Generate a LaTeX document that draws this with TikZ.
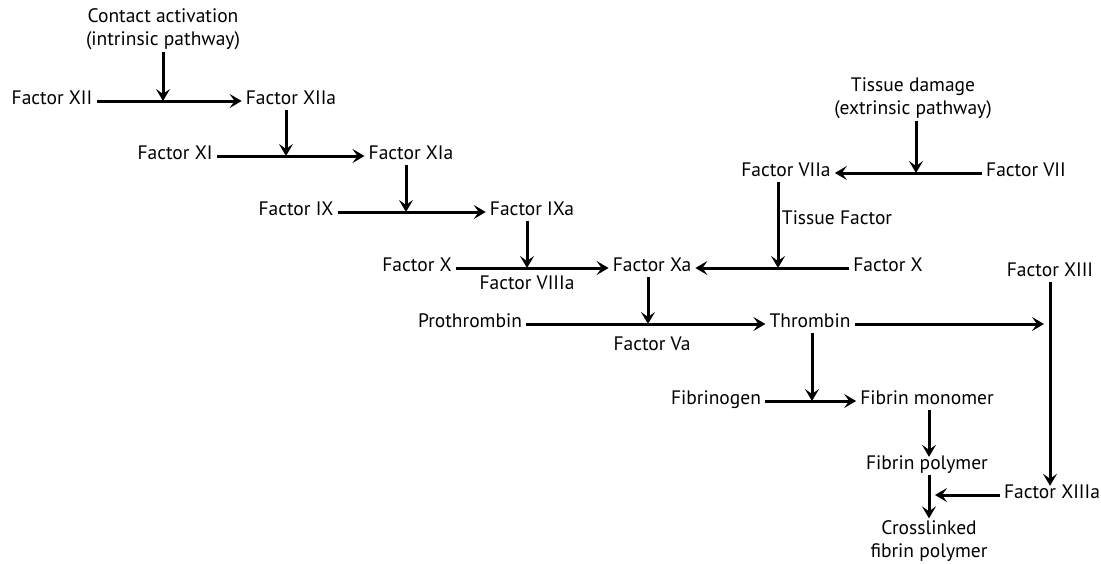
\documentclass[tikz,border=0pt]{standalone}
\usepackage{fontspec}
\setmainfont{PT Sans}
\usetikzlibrary{arrows.meta}

\begin{document}
\begin{tikzpicture}
[x=1pt,y=-1pt]
\tikzset{fac/.style={inner sep=4pt,text height=1.75ex,text depth=.25ex,font=\fontsize{19.5}{23}\selectfont}}
\tikzset{lbl/.style={inner sep=2pt,align=center,font=\fontsize{19.5}{23}\selectfont}}
\tikzset{arr/.style={line width=3pt,-{Stealth[length=12pt,width=14pt,inset=5pt]}}}
\useasboundingbox (0,0) rectangle (1101,563);

\node [lbl] (ca) at (163,29) {Contact activation\\(intrinsic pathway)};
\node [fac] (f12) at (52,101) {Factor XII};
\node [fac] (f12a) at (291,101) {Factor XIIa};
\node [fac] (f11) at (175,156) {Factor XI};
\node [fac] (f11a) at (411,156) {Factor XIa};
\node [fac] (f9) at (296,212) {Factor IX};
\node [fac] (f9a) at (532,212) {Factor IXa};
\node [fac] (f10) at (417,268) {Factor X};
\node [fac] (f10a) at (652,268) {Factor Xa};
\node [lbl] (f8a) at (527,283) {Factor VIIIa};
\node [lbl] (td) at (913,98) {Tissue damage\\(extrinsic pathway)};
\node [fac] (f7) at (1026,173) {Factor VII};
\node [fac] (f7a) at (786,173) {Factor VIIa};
\node [lbl] (tf) at (837,218) {Tissue Factor};
\node [fac] (f10b) at (888,268) {Factor X};
\node [fac] (pt) at (470,324) {Prothrombin};
\node [lbl] (f5a) at (652,344) {Factor Va};
\node [fac] (th) at (810,324) {Thrombin};
\node [fac] (f13) at (1050,273) {Factor XIII};
\node [fac] (f13a) at (1052,495) {Factor XIIIa};
\node [fac] (fg) at (716,401) {Fibrinogen};
\node [fac] (fm) at (927,401) {Fibrin monomer};
\node [fac] (fp) at (927,466) {Fibrin polymer};
\node [lbl] (cfp) at (929,541) {Crosslinked\\fibrin polymer};

\foreach \from/\to in {f12/f12a,f11/f11a,f9/f9a,f10/f10a,pt/th,fg/fm}
	\draw [arr] (\from.east) -- (\to.west);
\draw [arr] (f7.west) -- (f7a.east);
\draw [arr] (f10b.west) -- (f10a.east);

\draw [arr] (ca.south) -- (ca.south |- f12);
\draw [arr] ([xshift=-5pt]f12a.south) -- ([xshift=-5pt]f12a.south |- f11);
\draw [arr] ([xshift=-5pt]f11a.south) -- ([xshift=-5pt]f11a.south |- f9);
\draw [arr] ([xshift=-5pt]f9a.south) -- ([xshift=-5pt]f9a.south |- f10);
\draw [arr] ([xshift=-4pt]f10a.south) -- ([xshift=-4pt]f10a.south |- pt);
\draw [arr] ([xshift=3pt]td.south) -- ([xshift=3pt]td.south |- f7);
\draw [arr] ([xshift=-8pt]f7a.south) -- ([xshift=-8pt]f7a.south |- f10b);
\draw [arr] ([xshift=2pt]th.south) -- ([xshift=2pt]th.south |- fg);
\draw [arr, shorten >=6pt] (th.east) -- (th.east -| f13);
\draw [arr] (f13.south) -- (f13.south |- f13a.north);
\draw [arr] ([xshift=2pt]fm.south) -- ([xshift=2pt]fp.north);
\draw [arr] ([xshift=2pt]fp.south) -- ([xshift=2pt]fp.south |- cfp.north);
\draw [arr, shorten >=6pt] (f13a.west) -- ([xshift=2pt]f13a.west -| fp);

\end{tikzpicture}
\end{document}
